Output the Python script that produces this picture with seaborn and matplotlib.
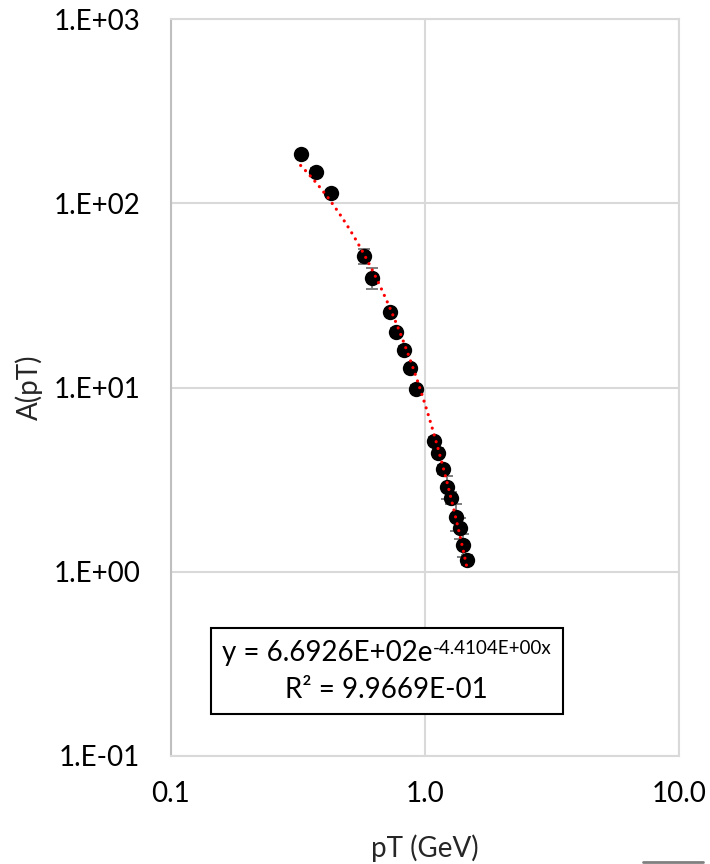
import numpy as np
import pandas as pd
import matplotlib
matplotlib.use("Agg")
import matplotlib.pyplot as plt
from matplotlib.lines import Line2D
from matplotlib.offsetbox import TextArea, HPacker, VPacker, AnchoredOffsetbox
import seaborn as sns

# Transverse-momentum spectrum with per-point uncertainties
pt_gev = [0.324, 0.371, 0.426, 0.575, 0.620, 0.726, 0.771, 0.824, 0.873, 0.922,
          1.085, 1.128, 1.174, 1.221, 1.266, 1.321, 1.370, 1.415, 1.468]
a_pt = [185.0, 148.0, 113.0, 51.7, 39.4, 25.6, 20.1, 16.0, 12.7, 9.85,
        5.14, 4.43, 3.60, 2.89, 2.52, 1.99, 1.73, 1.40, 1.16]
a_err = [8.0, 7.0, 5.0, 4.6, 5.2, 1.2, 1.0, 0.8, 0.6, 0.5,
         0.25, 0.25, 0.22, 0.40, 0.18, 0.33, 0.22, 0.20, 0.07]

# Exponential trendline parameters
fit_amp = 6.6926e2
fit_slope = -4.4104
fit_r2 = 9.9669e-1

x_ticks = [0.1, 1.0, 10.0]
x_tick_labels = ["0.1", "1.0", "10.0"]
y_ticks = [0.1, 1, 10, 100, 1000]
y_tick_labels = ["1.E-01", "1.E+00", "1.E+01", "1.E+02", "1.E+03"]

sns.set_theme(style="white")
plt.rcParams["font.family"] = ["Lato", "DejaVu Sans"]

df = pd.DataFrame({"pT": pt_gev, "A": a_pt, "err": a_err})
x_fit = np.linspace(min(pt_gev), max(pt_gev), 200)
fit_df = pd.DataFrame({"pT": x_fit, "A": fit_amp * np.exp(fit_slope * x_fit)})

fig = plt.figure(figsize=(7.1, 8.64), dpi=100)
ax = fig.add_axes([0.2408, 0.125, 0.7155, 0.853])

ax.set_xscale("log")
ax.set_yscale("log")

ax.errorbar(df["pT"], df["A"], yerr=df["err"], fmt="none", ecolor="#7f7f7f",
            elinewidth=1.4, capsize=4.5, capthick=1.4, zorder=2)
sns.scatterplot(data=df, x="pT", y="A", ax=ax, color="black", s=122,
                edgecolor="black", linewidth=0, zorder=3)
sns.lineplot(data=fit_df, x="pT", y="A", ax=ax, color="#ff0000", linewidth=2.3,
             linestyle=(0, (0.01, 2.2)), dash_capstyle="round", zorder=4)

ax.set_xlim(0.1, 10)
ax.set_ylim(0.1, 1000)
ax.set_xticks(x_ticks)
ax.set_xticklabels(x_tick_labels)
ax.set_yticks(y_ticks)
ax.set_yticklabels(y_tick_labels)
ax.minorticks_off()
ax.tick_params(axis="both", length=0, labelsize=20, colors="black")
ax.tick_params(axis="x", pad=18)
ax.tick_params(axis="y", pad=22)

ax.grid(True, which="major", color="#d9d9d9", linewidth=1.5)
for side, sp in ax.spines.items():
    sp.set_visible(True)
    sp.set_color("#d9d9d9")
    sp.set_linewidth(1.5)
ax.spines["left"].set_color("#bfbfbf")

ax.set_xlabel("pT (GeV)", fontsize=20, labelpad=20)
ax.set_ylabel("A(pT)", fontsize=20, labelpad=8)

# Trendline equation box: base text plus raised exponent
base = TextArea(f"y = {fit_amp:.4E}e", textprops=dict(fontsize=20, color="black"))
expo = TextArea(f"{fit_slope:.4E}x", textprops=dict(fontsize=13.5, color="black"))
line1 = HPacker(children=[base, expo], align="top", pad=0, sep=0)
line2 = TextArea(f"R\u00b2 = {fit_r2:.4E}", textprops=dict(fontsize=20, color="black"))
block = VPacker(children=[line1, line2], align="center", pad=0, sep=8)
box = AnchoredOffsetbox(loc="center", child=block, pad=0.42, borderpad=0,
                        prop=dict(size=20), frameon=True,
                        bbox_to_anchor=(0.425, 0.115),
                        bbox_transform=ax.transAxes)
box.patch.set_edgecolor("black")
box.patch.set_linewidth(1.5)
box.patch.set_facecolor("white")
box.patch.set_boxstyle("square", pad=0)
box.set_zorder(5)
ax.add_artist(box)

fig.add_artist(Line2D([0.905, 0.99], [0.0025, 0.0025], transform=fig.transFigure,
                      color="#808080", linewidth=2))

fig.savefig("out.png", dpi=100, facecolor="white")
